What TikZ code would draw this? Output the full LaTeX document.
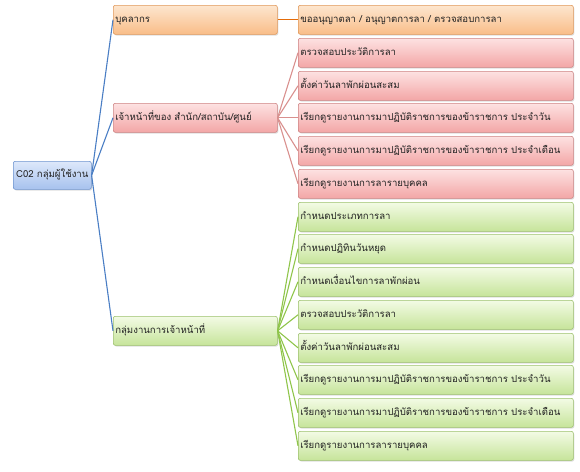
\documentclass[tikz,border=0pt]{standalone}
\usepackage{fontspec}
\setmainfont[Script=Thai]{Loma}
\usetikzlibrary{shadows}
\definecolor{otop}{HTML}{FDE6CF}
\definecolor{obot}{HTML}{F9BD88}
\definecolor{oline}{HTML}{E0985A}
\definecolor{oconn}{HTML}{E46C0A}
\definecolor{rtop}{HTML}{FDE2E2}
\definecolor{rbot}{HTML}{F3A6A6}
\definecolor{rline}{HTML}{CD8383}
\definecolor{rconn}{HTML}{D9908E}
\definecolor{gtop}{HTML}{F3FBE5}
\definecolor{gbot}{HTML}{C6E49A}
\definecolor{gline}{HTML}{9CC06C}
\definecolor{gconn}{HTML}{8FC54A}
\definecolor{btop}{HTML}{DDE8FA}
\definecolor{bbot}{HTML}{A7C2EE}
\definecolor{bline}{HTML}{6F95CF}
\definecolor{bconn}{HTML}{4A7EC4}
\definecolor{txt}{HTML}{222222}
\begin{document}
\begin{tikzpicture}[x=1pt,y=-1pt,
  box/.style={rounded corners=2pt, line width=0.6pt, anchor=north west,
    minimum height=29, inner xsep=2, inner ysep=0, align=left, text=txt,
    text height=8, text depth=3,
    font=\fontsize{9.6}{11}\selectfont,
    drop shadow={shadow xshift=1pt, shadow yshift=-1.2pt, opacity=0.25}},
  lvtwo/.style={box, text width=271},
  lvone/.style={box, text width=160},
  obox/.style={draw=oline, top color=otop, bottom color=obot},
  rbox/.style={draw=rline, top color=rtop, bottom color=rbot},
  gbox/.style={draw=gline, top color=gtop, bottom color=gbot},
  bbox/.style={draw=bline, top color=btop, bottom color=bbot},
  conn/.style={line width=1.1pt}
]
\useasboundingbox (0,0) rectangle (580,471);

% root
\node[box, bbox, align=center, minimum width=78, minimum height=28, inner xsep=1] (root) at (13,161) {C02 กลุ่มผู้ใช้งาน};

% level 1
\node[lvone, obox] (a) at (113,5) {บุคลากร};
\node[lvone, rbox] (b) at (113,103) {เจ้าหน้าที่ของ สำนัก/สถาบัน/ศูนย์};
\node[lvone, gbox] (c) at (113,316) {กลุ่มงานการเจ้าหน้าที่};

% level 2 orange
\node[lvtwo, obox] (a1) at (298,5) {ขออนุญาตลา / อนุญาตการลา / ตรวจสอบการลา};

% level 2 red
\node[lvtwo, rbox] (b1) at (298,38) {ตรวจสอบประวัติการลา};
\node[lvtwo, rbox] (b2) at (298,71) {ตั้งค่าวันลาพักผ่อนสะสม};
\node[lvtwo, rbox] (b3) at (298,103) {เรียกดูรายงานการมาปฏิบัติราชการของข้าราชการ ประจำวัน};
\node[lvtwo, rbox] (b4) at (298,136) {เรียกดูรายงานการมาปฏิบัติราชการของข้าราชการ ประจำเดือน};
\node[lvtwo, rbox] (b5) at (298,169) {เรียกดูรายงานการลารายบุคคล};

% level 2 green
\node[lvtwo, gbox] (c1) at (298,202) {กำหนดประเภทการลา};
\node[lvtwo, gbox] (c2) at (298,234) {กำหนดปฏิทินวันหยุด};
\node[lvtwo, gbox] (c3) at (298,267) {กำหนดเงื่อนไขการลาพักผ่อน};
\node[lvtwo, gbox] (c4) at (298,300) {ตรวจสอบประวัติการลา};
\node[lvtwo, gbox] (c5) at (298,333) {ตั้งค่าวันลาพักผ่อนสะสม};
\node[lvtwo, gbox] (c6) at (298,365) {เรียกดูรายงานการมาปฏิบัติราชการของข้าราชการ ประจำวัน};
\node[lvtwo, gbox] (c7) at (298,398) {เรียกดูรายงานการมาปฏิบัติราชการของข้าราชการ ประจำเดือน};
\node[lvtwo, gbox] (c8) at (298,431) {เรียกดูรายงานการลารายบุคคล};

\begin{scope}[conn]
\draw[bconn] (root.east) -- (a.west);
\draw[bconn] (root.east) -- (b.west);
\draw[bconn] (root.east) -- (c.west);
\draw[oconn] (a.east) -- (a1.west);
\foreach \n in {b1,b2,b3,b4,b5} \draw[rconn] (b.east) -- (\n.west);
\foreach \n in {c1,c2,c3,c4,c5,c6,c7,c8} \draw[gconn] (c.east) -- (\n.west);
\end{scope}
\end{tikzpicture}
\end{document}
